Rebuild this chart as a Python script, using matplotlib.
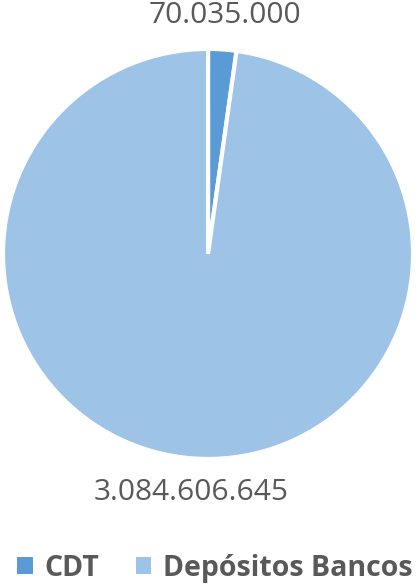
import matplotlib.pyplot as plt
from matplotlib.patches import Patch

categories = ["CDT", "Depósitos Bancos"]
values = [70035000, 3084606645]
colors = ["#5B9BD5", "#9DC3E6"]

plt.rcParams['font.family'] = ['Open Sans', 'DejaVu Sans']

fig = plt.figure(figsize=(4.18, 5.85), dpi=100)
ax = fig.add_axes([0.00718, 0.2154, 0.981, 0.701])

# Format values with dots as thousand separators
labels = [f"{v:,}".replace(",", ".") for v in values]

wedges, texts = ax.pie(
    values,
    labels=labels,
    colors=colors,
    startangle=90,
    counterclock=False,
    labeldistance=1.165,
    wedgeprops=dict(edgecolor="white", linewidth=3),
    textprops=dict(fontsize=21.5, color="#595959"),
)
for t in texts:
    t.set_horizontalalignment("center")
    t.set_verticalalignment("center")

ax.set_xlim(-1, 1)
ax.set_ylim(-1, 1)
ax.set_aspect("equal")

# Legend at the bottom
handles = [Patch(facecolor=c, edgecolor="none") for c in colors]
fig.legend(
    handles, categories,
    loc="center", bbox_to_anchor=(0.515, 0.029),
    ncol=2, frameon=False,
    handlelength=0.53, handleheight=0.53,
    handletextpad=0.42, columnspacing=1.3,
    prop=dict(size=20.5, weight="bold"),
    labelcolor="#595959",
    borderpad=0, borderaxespad=0,
)

fig.savefig("out.png", dpi=100)
plt.close(fig)
